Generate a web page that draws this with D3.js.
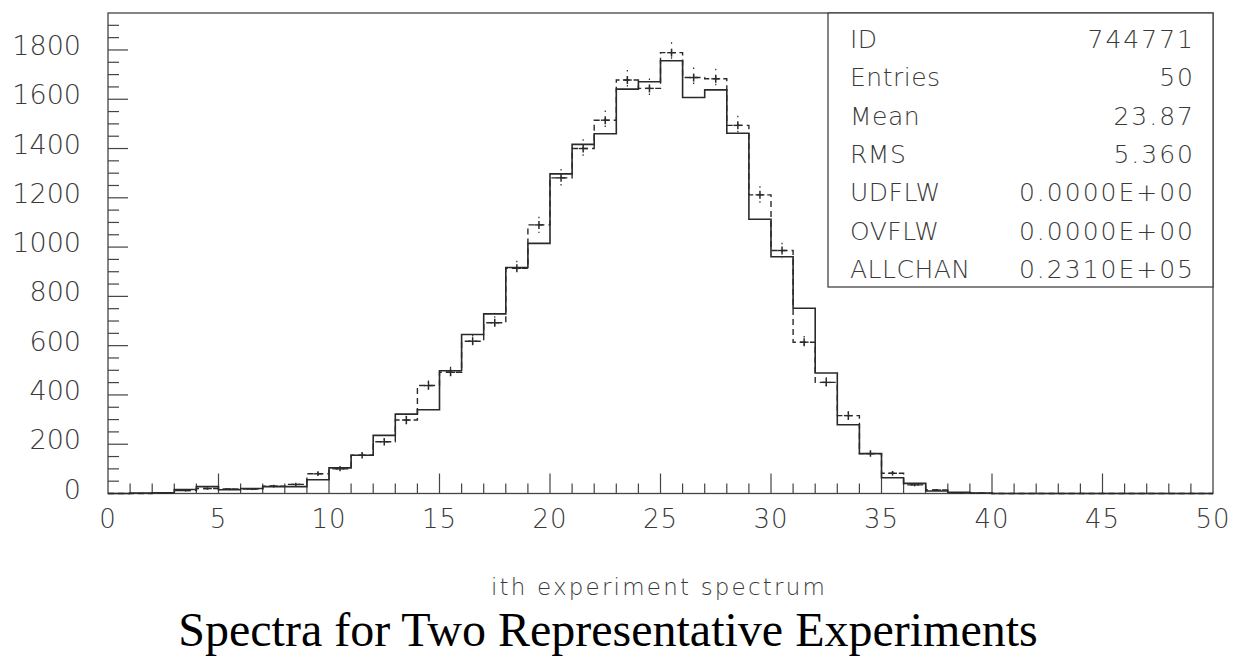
<!DOCTYPE html>
<html>
<head>
<meta charset="utf-8">
<script src="https://cdn.jsdelivr.net/npm/d3@7"></script>
<style>
  body { margin: 0; background: #fff; }
  svg text { font-family: "DejaVu Sans", sans-serif; font-weight: 200; fill: #3a3a3a; }
</style>
</head>
<body>
<div class="chart-section"></div>
<script>
// bin contents, one value per unit bin 0..49
const solidCounts = [
  0, 2, 3, 16, 28, 15, 20, 28, 28, 56,
  104, 155, 236, 322, 340, 498, 645, 729, 917, 1015,
  1297, 1417, 1460, 1641, 1671, 1756, 1607, 1638, 1462, 1113,
  961, 752, 489, 279, 162, 64, 41, 10, 5, 2,
  0, 0, 0, 0, 0, 0, 0, 0, 0, 0,
];
const dashedCounts = [
  0, 0, 2, 12, 20, 18, 18, 30, 37, 80,
  100, 155, 210, 298, 438, 492, 618, 693, 914, 1090,
  1281, 1400, 1515, 1678, 1644, 1789, 1688, 1683, 1494, 1212,
  986, 614, 451, 316, 162, 82, 35, 14, 3, 1,
  0, 0, 0, 0, 0, 0, 0, 0, 0, 0,
];
const xTickLabels = [0, 5, 10, 15, 20, 25, 30, 35, 40, 45, 50];
const yTickLabels = [0, 200, 400, 600, 800, 1000, 1200, 1400, 1600, 1800];
const statNames = ["ID", "Entries", "Mean", "RMS", "UDFLW", "OVFLW", "ALLCHAN"];
const statValues = ["744771", "50", "23.87", "5.360", "0.0000E+00", "0.0000E+00", "0.2310E+05"];

const width = 1234,
  height = 657;
const marginLeft = 108,
  marginRight = 21,
  marginTop = 13,
  marginBottom = 163.5;
const ink = "#2a2a2a";

const svg = d3
  .select(".chart-section")
  .append("svg")
  .attr("width", width)
  .attr("height", height);

const xScale = d3.scaleLinear().domain([0, 50]).range([marginLeft, width - marginRight]);
const yScale = d3.scaleLinear().domain([0, 1950]).range([height - marginBottom, marginTop]);

// frame
svg
  .append("rect")
  .attr("x", xScale(0))
  .attr("y", yScale(1950))
  .attr("width", xScale(50) - xScale(0))
  .attr("height", yScale(0) - yScale(1950))
  .attr("fill", "none")
  .attr("stroke", "#444")
  .attr("stroke-width", 1.3);

// inner ticks: x every unit (major every 5), y every 50 (major every 200)
const xMinor = d3.range(1, 50);
svg
  .append("g")
  .selectAll("line")
  .data(xMinor)
  .join("line")
  .attr("x1", (d) => xScale(d))
  .attr("x2", (d) => xScale(d))
  .attr("y1", yScale(0))
  .attr("y2", (d) => yScale(0) - (d % 5 === 0 ? 20 : 10))
  .attr("stroke", "#444")
  .attr("stroke-width", 1.2);

const yMinor = d3.range(50, 1950, 50);
svg
  .append("g")
  .selectAll("line")
  .data(yMinor)
  .join("line")
  .attr("x1", xScale(0))
  .attr("x2", (d) => xScale(0) + (d % 200 === 0 ? 20 : 11))
  .attr("y1", (d) => yScale(d))
  .attr("y2", (d) => yScale(d))
  .attr("stroke", "#444")
  .attr("stroke-width", 1.2);

// tick labels
svg
  .append("g")
  .selectAll("text")
  .data(xTickLabels)
  .join("text")
  .attr("x", (d) => xScale(d))
  .attr("y", yScale(0) + 34)
  .attr("text-anchor", "middle")
  .attr("font-size", 26)
  .attr("letter-spacing", 1)
  .text((d) => d);

svg
  .append("g")
  .selectAll("text")
  .data(yTickLabels)
  .join("text")
  .attr("x", 81)
  .attr("y", (d) => yScale(d) + 5)
  .attr("text-anchor", "end")
  .attr("font-size", 27)
  .text((d) => d);

// histogram paths
const stepLine = d3
  .line()
  .x((d) => xScale(d[0]))
  .y((d) => yScale(d[1]))
  .curve(d3.curveStepAfter);

const toSteps = (counts) => {
  const pts = [[0, 0]];
  counts.forEach((v, i) => pts.push([i, v]));
  pts.push([counts.length, counts[counts.length - 1]]);
  pts.push([counts.length, 0]);
  return pts;
};

svg
  .append("path")
  .attr("d", stepLine(toSteps(dashedCounts)))
  .attr("fill", "none")
  .attr("stroke", ink)
  .attr("stroke-width", 1.4)
  .attr("stroke-dasharray", "6,4");

svg
  .append("path")
  .attr("d", stepLine(toSteps(solidCounts)))
  .attr("fill", "none")
  .attr("stroke", ink)
  .attr("stroke-width", 1.6);

// error crosses on the dashed histogram
const errData = dashedCounts
  .map((v, i) => ({ i, v }))
  .filter((d) => d.v > 0);

const errG = svg.append("g");
errG
  .selectAll("line.core")
  .data(errData)
  .join("line")
  .attr("class", "core")
  .attr("x1", (d) => xScale(d.i + 0.5))
  .attr("x2", (d) => xScale(d.i + 0.5))
  .attr("y1", (d) => yScale(d.v) - Math.min(4, Math.sqrt(d.v) * 0.25))
  .attr("y2", (d) => yScale(d.v) + Math.min(4, Math.sqrt(d.v) * 0.25))
  .attr("stroke", ink)
  .attr("stroke-width", 1.5);
errG
  .selectAll("line.err")
  .data(errData.filter((d) => d.v > 60))
  .join("line")
  .attr("class", "err")
  .attr("x1", (d) => xScale(d.i + 0.5))
  .attr("x2", (d) => xScale(d.i + 0.5))
  .attr("y1", (d) => yScale(d.v + Math.sqrt(d.v)))
  .attr("y2", (d) => yScale(Math.max(0, d.v - Math.sqrt(d.v))))
  .attr("stroke", ink)
  .attr("stroke-width", 1.2)
  .attr("stroke-dasharray", "1.5,6");
errG
  .selectAll("line.bar")
  .data(errData)
  .join("line")
  .attr("class", "bar")
  .attr("x1", (d) => xScale(d.i + 0.3))
  .attr("x2", (d) => xScale(d.i + 0.7))
  .attr("y1", (d) => yScale(d.v))
  .attr("y2", (d) => yScale(d.v))
  .attr("stroke", ink)
  .attr("stroke-width", 1.4);

// statistics box
const boxLeft = 828,
  boxBottom = 287;
const stats = svg.append("g");
stats
  .append("rect")
  .attr("x", boxLeft)
  .attr("y", yScale(1950))
  .attr("width", xScale(50) - boxLeft)
  .attr("height", boxBottom - yScale(1950))
  .attr("fill", "#fff")
  .attr("stroke", "#444")
  .attr("stroke-width", 1.3);

stats
  .selectAll("text.name")
  .data(statNames)
  .join("text")
  .attr("class", "name")
  .attr("x", 850)
  .attr("y", (d, i) => 48 + i * 38.3)
  .attr("font-size", 25)
  .attr("letter-spacing", 0.5)
  .text((d) => d);

stats
  .selectAll("text.value")
  .data(statValues)
  .join("text")
  .attr("class", "value")
  .attr("x", 1195)
  .attr("y", (d, i) => 48 + i * 38.3)
  .attr("text-anchor", "end")
  .attr("font-size", 25)
  .attr("letter-spacing", 2)
  .text((d) => d);

// titles
svg
  .append("text")
  .attr("x", 659)
  .attr("y", 595)
  .attr("text-anchor", "middle")
  .attr("font-size", 23)
  .attr("letter-spacing", 2.2)
  .text("ith experiment spectrum");

svg
  .append("text")
  .attr("x", 608)
  .attr("y", 646)
  .attr("text-anchor", "middle")
  .attr("font-size", 48)
  .style("font-family", "'Liberation Serif', 'Times New Roman', serif")
  .style("font-weight", 400)
  .style("fill", "#000")
  .text("Spectra for Two Representative Experiments");
</script>
</body>
</html>
